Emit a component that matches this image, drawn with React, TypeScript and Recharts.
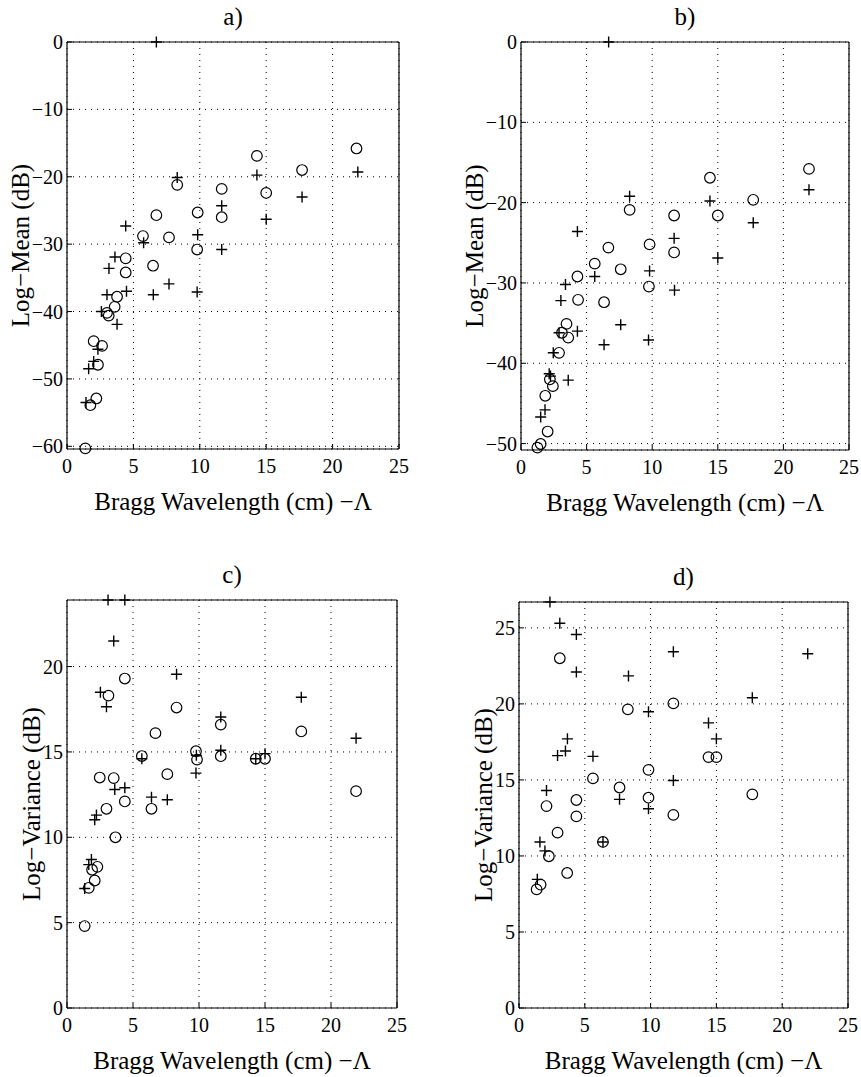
import React from 'react';
import { ScatterChart, Scatter, XAxis, YAxis, CartesianGrid, Label } from 'recharts';

const FONT = '"Liberation Serif", "Times New Roman", serif';

// ---- tick labels ----
const xTicks = [0, 5, 10, 15, 20, 25];
const meanTicksA = [-60, -50, -40, -30, -20, -10, 0];
const meanTicksB = [-50, -40, -30, -20, -10, 0];
const varTicksC = [0, 5, 10, 15, 20];
const varTicksD = [0, 5, 10, 15, 20, 25];

// ---- panel a) Log-Mean ----
const aCircles = [
  [1.38, -60.3], [1.76, -53.9], [2.21, -52.9], [2.33, -47.9], [2.01, -44.4], [2.64, -45.1],
  [3.01, -40.2], [3.14, -40.6], [3.59, -39.3], [3.77, -37.8], [4.42, -32.1], [4.42, -34.2],
  [5.72, -28.8], [6.48, -33.2], [6.73, -25.7], [7.68, -29.0], [8.3, -21.2], [9.8, -30.8],
  [9.84, -25.3], [11.65, -21.8], [11.65, -26.0], [14.3, -16.9], [15.0, -22.4], [17.7, -19.0],
  [21.8, -15.8],
];
const aCrosses = [
  [6.73, 0], [1.43, -53.5], [1.63, -48.5], [2.01, -47.4], [2.33, -45.6], [2.59, -40.0],
  [3.01, -37.5], [3.16, -33.6], [3.61, -31.9], [3.77, -41.9], [4.42, -27.3], [4.48, -37.0],
  [5.77, -29.8], [6.5, -37.5], [7.68, -35.9], [8.3, -20.1], [9.8, -37.1], [9.84, -28.6],
  [11.65, -24.3], [11.65, -30.8], [14.3, -19.75], [15.0, -26.3], [17.7, -23.0], [21.9, -19.3],
];

// ---- panel b) Log-Mean ----
const bCircles = [
  [1.25, -50.5], [1.5, -50.05], [2.03, -48.5], [1.85, -44.05], [2.43, -42.85], [2.2, -42.0],
  [2.9, -38.7], [3.12, -36.2], [3.6, -36.8], [3.47, -35.1], [4.35, -32.1], [6.33, -32.4],
  [4.3, -29.2], [9.75, -30.45], [5.62, -27.6], [6.66, -25.6], [7.6, -28.3], [8.28, -20.9],
  [9.8, -25.2], [11.67, -21.6], [11.67, -26.2], [14.4, -16.9], [15.0, -21.6], [17.7, -19.65],
  [21.95, -15.8],
];
const bCrosses = [
  [6.68, 0], [1.5, -46.7], [1.83, -45.8], [2.15, -41.3], [2.25, -41.6], [2.46, -38.7],
  [3.6, -42.1], [2.9, -36.2], [4.3, -36.0], [3.04, -32.2], [3.39, -30.2], [4.3, -23.6],
  [5.62, -29.2], [6.33, -37.7], [7.6, -35.2], [8.28, -19.2], [9.72, -37.1], [9.8, -28.5],
  [11.67, -24.45], [11.7, -30.9], [14.4, -19.8], [15.0, -26.9], [17.7, -22.5], [21.95, -18.4],
];

// ---- panel c) Log-Variance ----
const cCircles = [
  [1.34, 4.8], [1.65, 7.04], [2.1, 7.47], [1.9, 8.1], [2.3, 8.27], [3.67, 10.0],
  [2.99, 11.67], [4.38, 12.1], [6.4, 11.67], [2.48, 13.5], [3.54, 13.47], [7.6, 13.7],
  [5.67, 14.76], [9.77, 15.04], [9.85, 14.55], [11.65, 14.75], [14.3, 14.6], [15.0, 14.6],
  [6.7, 16.1], [11.65, 16.6], [8.3, 17.6], [3.14, 18.3], [4.38, 19.3], [17.75, 16.2],
  [21.9, 12.7],
];
const cCrosses = [
  [3.11, 23.9], [4.38, 23.9], [3.54, 21.5], [8.3, 19.55], [2.53, 18.5], [2.99, 17.65],
  [17.75, 18.2], [21.9, 15.8], [11.65, 17.05], [11.65, 15.1], [9.8, 14.8], [9.77, 13.76],
  [14.3, 14.6], [15.0, 14.9], [5.67, 14.6], [3.62, 12.8], [4.38, 12.9], [6.4, 12.35],
  [7.6, 12.2], [2.23, 11.3], [2.1, 11.03], [1.85, 8.7], [1.65, 8.4], [1.34, 7.0],
];

// ---- panel d) Log-Variance ----
const dCircles = [
  [1.34, 7.8], [1.64, 8.11], [3.66, 8.88], [2.27, 9.98], [6.38, 10.92], [2.93, 11.53],
  [4.36, 12.6], [11.73, 12.7], [2.09, 13.28], [4.36, 13.68], [9.84, 13.83], [7.64, 14.5],
  [17.73, 14.05], [5.62, 15.1], [9.84, 15.66], [14.4, 16.5], [15.0, 16.5], [8.27, 19.64],
  [11.73, 20.03], [3.1, 23.0],
];
const dCrosses = [
  [2.35, 26.7], [3.1, 25.3], [4.36, 24.56], [4.36, 22.1], [11.73, 23.43], [21.94, 23.3],
  [8.32, 21.84], [9.84, 19.48], [17.73, 20.4], [14.4, 18.75], [15.0, 17.7], [3.68, 17.7],
  [3.53, 16.9], [2.93, 16.6], [5.62, 16.55], [11.73, 14.96], [2.09, 14.3], [7.64, 13.72],
  [9.84, 13.1], [6.38, 10.92], [1.59, 10.92], [1.97, 10.33], [1.39, 8.46],
];

const toPts = (arr: number[][]) => arr.map(([x, y]) => ({ x, y }));
const fmt = (v: number) => (v < 0 ? '\u2212' + Math.abs(v) : String(v));
const blank = () => '';

const CircleShape = (p: any) => (
  <circle cx={p.cx} cy={p.cy} r={5.3} fill="none" stroke="#000" strokeWidth={1.2} />
);
const CrossShape = (p: any) => (
  <path
    d={`M${p.cx - 5.5},${p.cy}H${p.cx + 5.5}M${p.cx},${p.cy - 5.5}V${p.cy + 5.5}`}
    stroke="#000"
    strokeWidth={1.4}
    fill="none"
  />
);

const Y_W = 67;
const TOP_H = 42;
const BOT_H = 66;
const R_W = 6;
const M_R = 4;

const tickStyle = { fill: '#000', fontSize: 20, fontFamily: FONT, style: { fontFamily: FONT } };
const lbl = { fill: '#000', fontSize: 25, fontFamily: FONT, style: { fontFamily: FONT } };

type PanelProps = {
  left: number;
  top: number;
  plotW: number;
  plotH: number;
  yDomain: [number, number];
  yTicks: number[];
  circles: number[][];
  crosses: number[][];
  title: string;
  yLabel: string;
  yLabelDx: number;
};

function Panel(props: PanelProps) {
  const { left, top, plotW, plotH, yDomain, yTicks, circles, crosses, title, yLabel, yLabelDx } = props;
  const width = Y_W + plotW + R_W + M_R;
  const height = TOP_H + plotH + BOT_H;
  return (
    <div style={{ position: 'absolute', left, top, fontFamily: FONT }}>
      <ScatterChart width={width} height={height} margin={{ top: 0, right: M_R, bottom: 0, left: 0 }} style={{ fontFamily: FONT }}>
        <CartesianGrid xAxisId="b" yAxisId="l" stroke="#000" strokeDasharray="1 5" strokeWidth={1} />
        <XAxis
          xAxisId="b"
          type="number"
          dataKey="x"
          domain={[0, 25]}
          ticks={xTicks}
          interval={0}
          height={BOT_H}
          tickSize={-5}
          tickMargin={15}
          axisLine={{ stroke: '#000', strokeWidth: 1.2 }}
          tickLine={{ stroke: '#000' }}
          tick={tickStyle}
          tickFormatter={fmt}
        >
          <Label value={'Bragg Wavelength (cm) \u2212\u039B'} position="insideBottom" offset={5} {...lbl} />
        </XAxis>
        <XAxis
          xAxisId="t"
          orientation="top"
          type="number"
          domain={[0, 25]}
          ticks={xTicks}
          interval={0}
          height={TOP_H}
          tickSize={-5}
          axisLine={{ stroke: '#000', strokeWidth: 1.2 }}
          tickLine={{ stroke: '#000' }}
          tickFormatter={blank}
        >
          <Label value={title} position="insideTop" offset={7} {...lbl} />
        </XAxis>
        <YAxis
          yAxisId="l"
          type="number"
          dataKey="y"
          domain={yDomain}
          ticks={yTicks}
          interval={0}
          width={Y_W}
          tickSize={-5}
          tickMargin={9}
          axisLine={{ stroke: '#000', strokeWidth: 1.2 }}
          tickLine={{ stroke: '#000' }}
          tick={tickStyle}
          tickFormatter={fmt}
        >
          <Label value={yLabel} angle={-90} position="center" dx={yLabelDx} {...lbl} />
        </YAxis>
        <YAxis
          yAxisId="r"
          orientation="right"
          type="number"
          domain={yDomain}
          ticks={yTicks}
          interval={0}
          width={R_W}
          tickSize={-5}
          axisLine={{ stroke: '#000', strokeWidth: 1.2 }}
          tickLine={{ stroke: '#000' }}
          tickFormatter={blank}
        />
        <Scatter data={toPts(circles)} xAxisId="b" yAxisId="l" shape={CircleShape} isAnimationActive={false} />
        <Scatter data={toPts(crosses)} xAxisId="b" yAxisId="l" shape={CrossShape} isAnimationActive={false} />
      </ScatterChart>
    </div>
  );
}

export default function App() {
  return (
    <div
      style={{
        position: 'absolute',
        left: 0,
        top: 0,
        width: 861,
        height: 1077,
        background: '#fff',
        overflow: 'hidden',
        fontFamily: FONT,
      }}
    >
      <Panel left={0} top={0} plotW={332} plotH={407} yDomain={[-60.4, 0]} yTicks={meanTicksA}
        circles={aCircles} crosses={aCrosses} title="a)" yLabel={'Log\u2212Mean (dB)'} yLabelDx={-13.5} />
      <Panel left={454} top={0} plotW={328} plotH={408} yDomain={[-50.8, 0]} yTicks={meanTicksB}
        circles={bCircles} crosses={bCrosses} title="b)" yLabel={'Log\u2212Mean (dB)'} yLabelDx={-13.5} />
      <Panel left={0} top={558} plotW={330} plotH={408} yDomain={[0, 23.9]} yTicks={varTicksC}
        circles={cCircles} crosses={cCrosses} title="c)" yLabel={'Log\u2212Variance (dB)'} yLabelDx={-2.5} />
      <Panel left={452} top={560} plotW={329} plotH={406} yDomain={[0, 26.7]} yTicks={varTicksD}
        circles={dCircles} crosses={dCrosses} title="d)" yLabel={'Log\u2212Variance (dB)'} yLabelDx={-2.5} />
    </div>
  );
}
